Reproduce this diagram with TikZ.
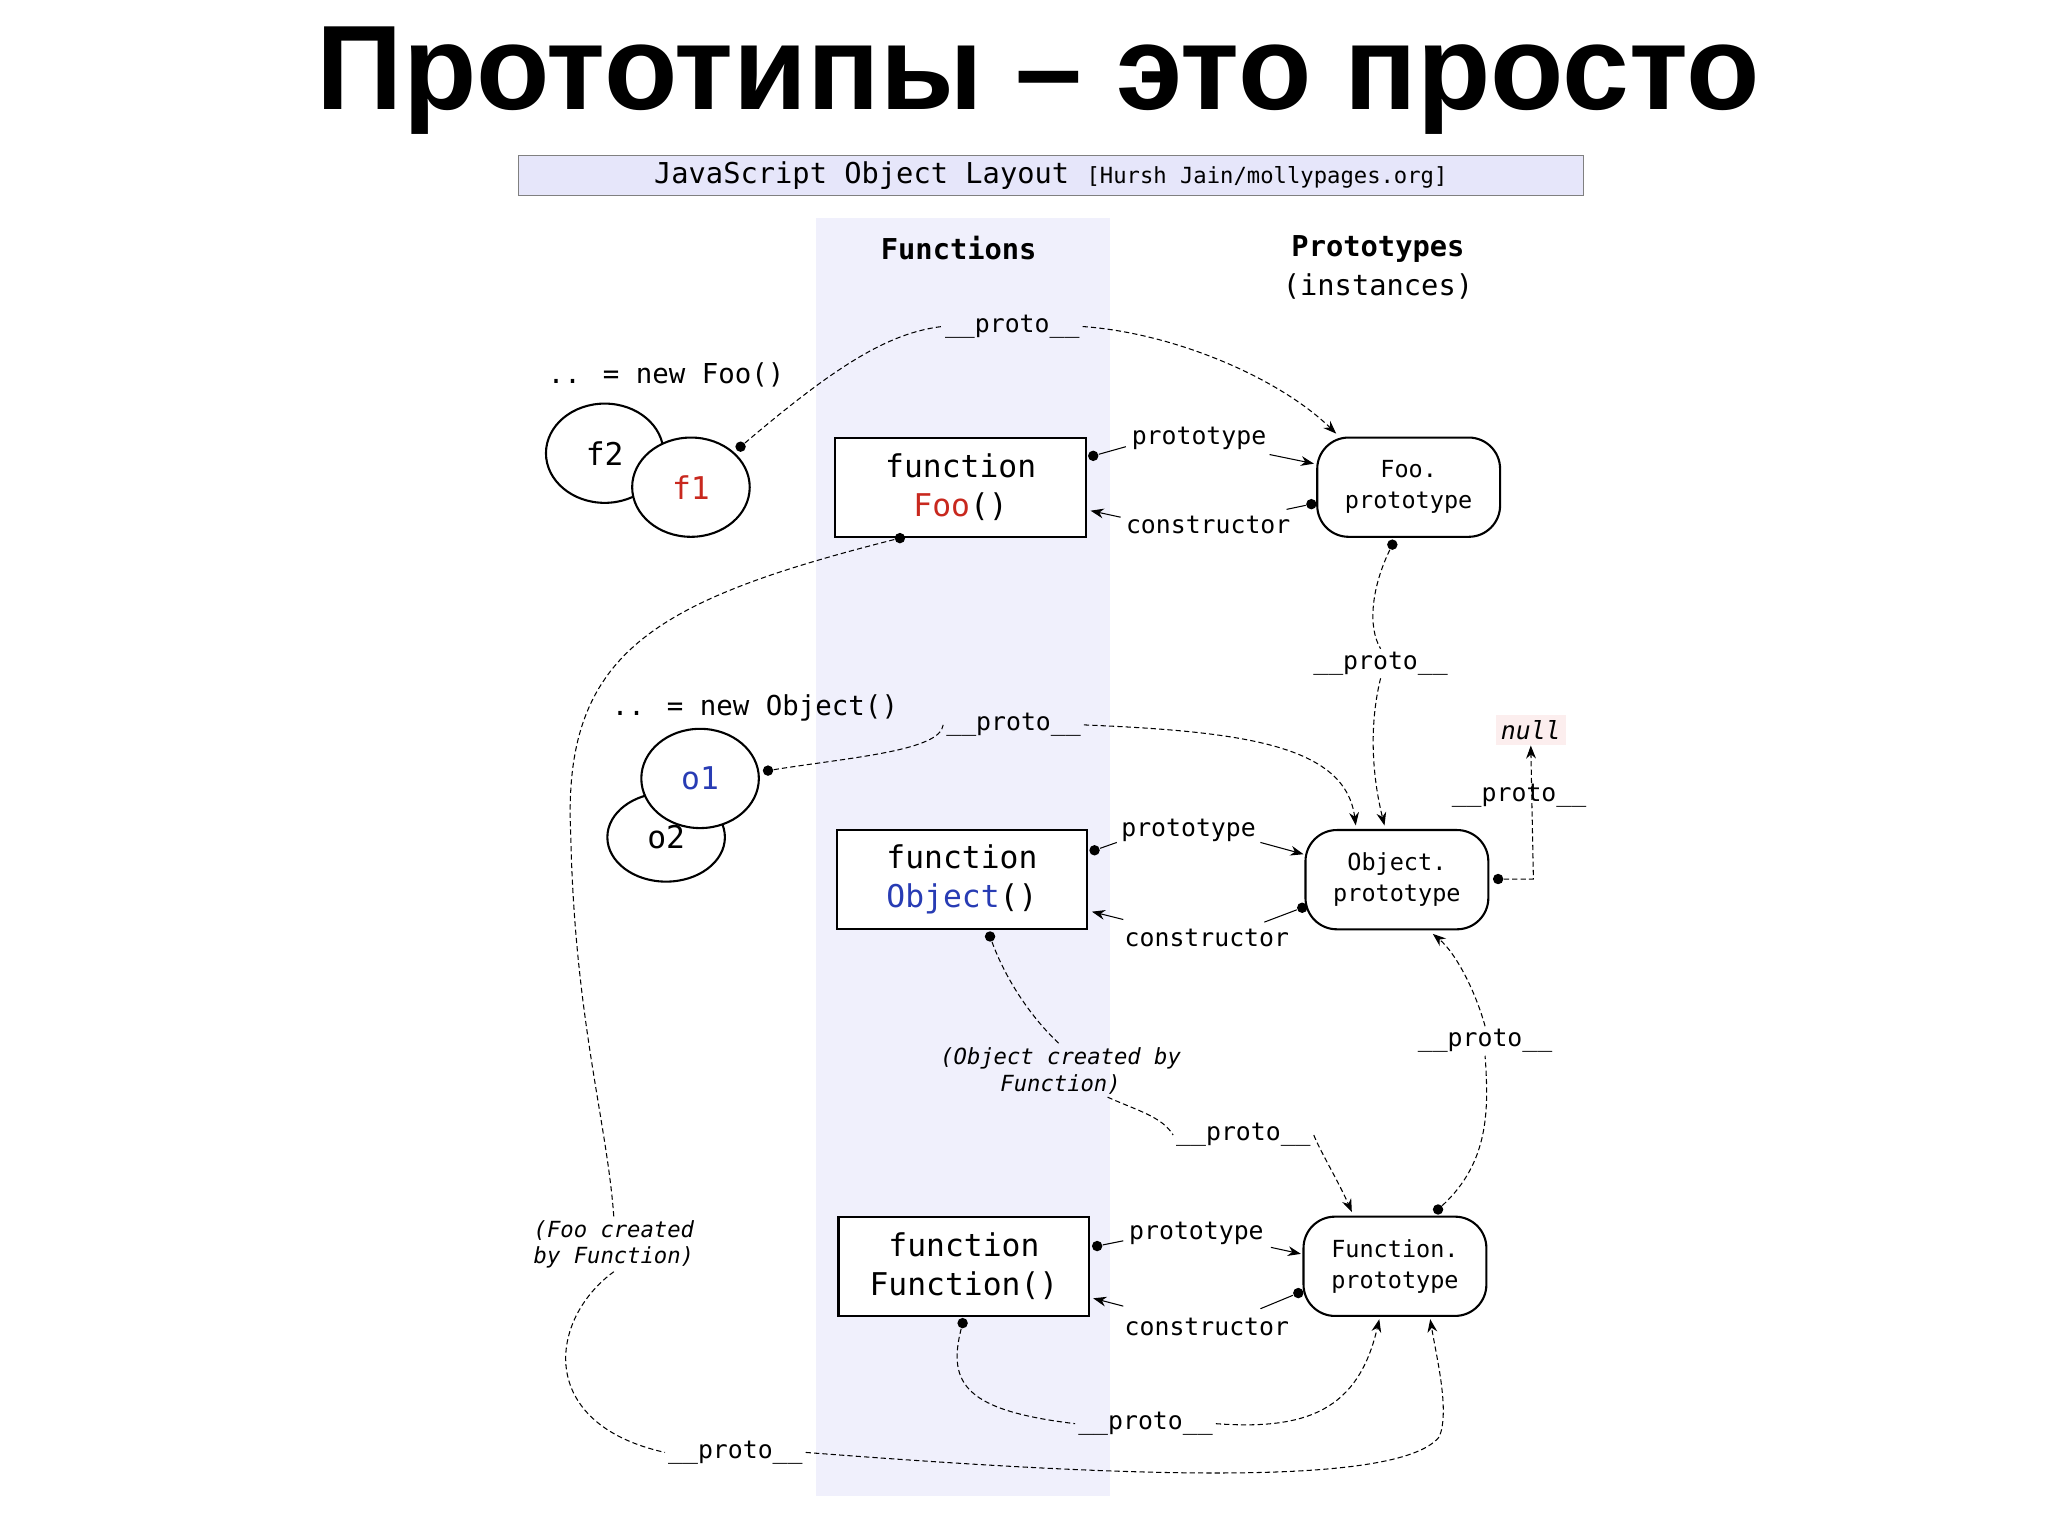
\documentclass[tikz,border=0pt]{standalone}
\usepackage{fontspec}
\setmainfont{Liberation Sans}
\newfontfamily\mono{DejaVu Sans Mono}
\usetikzlibrary{arrows.meta,shapes.geometric}
\definecolor{red1}{RGB}{200,40,30}
\definecolor{blue1}{RGB}{40,60,180}
\definecolor{band}{RGB}{240,240,252}
\definecolor{banner}{RGB}{230,230,250}
\definecolor{nullbg}{RGB}{252,238,238}
\tikzset{
 fbox/.style={draw,thick,fill=white,minimum width=96pt,minimum height=38pt,align=center,font=\mono\fontsize{12}{15}\selectfont},
 pbox/.style={draw,thick,fill=white,rounded corners=12pt,minimum width=70pt,minimum height=38pt,align=center,font=\mono\fontsize{9}{12}\selectfont},
 obj/.style={draw,thick,fill=white,ellipse,minimum width=45pt,minimum height=38pt,font=\mono\fontsize{12}{14}\selectfont},
 lbl/.style={font=\mono\fontsize{9.5}{11}\selectfont,inner sep=1pt},
 ilbl/.style={font=\mono\itshape\fontsize{8.5}{10}\selectfont,align=center,inner sep=1pt},
 conn/.style={thin,-{Stealth[length=5pt]}},
 pconn/.style={thin,dashed,dash pattern=on 2pt off 1.2pt,-{Stealth[length=5pt]}},
 pline/.style={thin,dashed,dash pattern=on 2pt off 1.2pt},
 dot/.style={circle,fill=black,inner sep=0pt,minimum size=4pt},
}
\begin{document}
\begin{tikzpicture}[x=0.5pt,y=-0.5pt]
\useasboundingbox (0,0) rectangle (1568,1176);
\fill[band] (625,167) rectangle (850,1145);
\node (title) at (795,62) {\fontsize{46}{50}\selectfont\bfseries Прототипы – это просто};
\node[draw=gray,fill=banner,minimum width=407.5pt,minimum height=15.5pt,inner sep=0pt] (banner) at (804.5,134.5) {\mono\fontsize{11}{12}\selectfont JavaScript Object Layout \fontsize{8.5}{10}\selectfont[Hursh Jain/mollypages.org]};
\node (hf) at (734,190) {\mono\bfseries\fontsize{11}{12}\selectfont Functions};
\node[align=center,font=\mono\fontsize{11}{15}\selectfont] (hp) at (1055,205) {\textbf{Prototypes}\\(instances)};

\node[lbl] (newfoo) at (510,287) {\fontsize{10.5}{12}\selectfont .. = new Foo()};
\node[obj] (f2) at (463,347) {f2};
\node[obj] (f1) at (529,373) {\color{red1}f1};
\node[lbl] (newobj) at (578,542) {\fontsize{10.5}{12}\selectfont .. = new Object()};
\node[obj,minimum height=34pt] (o2) at (510,641) {\raisebox{-4pt}{o2}};
\node[obj] (o1) at (536,596) {\color{blue1}o1};

\node[fbox] (foo) at (735.5,373) {function\\{\color{red1}Foo}()};
\node[fbox] (object) at (736.5,673.5) {function\\{\color{blue1}Object}()};
\node[fbox] (function) at (738,969.5) {function\\Function()};
\node[pbox] (fooP) at (1078.5,373) {Foo.\\prototype};
\node[pbox] (objP) at (1069.5,673.5) {Object.\\prototype};
\node[pbox] (funP) at (1068,969.5) {Function.\\prototype};
\node[fill=nullbg,font=\mono\itshape\fontsize{9.5}{11}\selectfont,inner sep=2pt] (null) at (1172,559) {null};

\node[lbl] (l1) at (775,250) {\_\_proto\_\_};
\node[lbl] (l2) at (1057,508) {\_\_proto\_\_};
\node[lbl] (l3) at (776,555) {\_\_proto\_\_};
\node[lbl] (l4) at (1163,609) {\_\_proto\_\_};
\node[lbl] (l5) at (1137,797) {\_\_proto\_\_};
\node[lbl] (l6) at (952,869) {\_\_proto\_\_};
\node[lbl] (l7) at (877,1090) {\_\_proto\_\_};
\node[lbl] (l8) at (563,1112) {\_\_proto\_\_};
\node[ilbl] (oc) at (812,820) {(Object created by\\Function)};
\node[ilbl] (fc) at (470,953) {(Foo created\\by Function)};
\node[lbl] (pra) at (918,336) {prototype};
\node[lbl] (prb) at (910,636) {prototype};
\node[lbl] (prc) at (916,944) {prototype};
\node[lbl] (cna) at (925,402) {constructor};
\node[lbl] (cnb) at (924,718) {constructor};
\node[lbl] (cnc) at (924,1016) {constructor};

\node[dot] (d1) at (567,342) {};
\node[dot] (d2) at (837,349) {};
\node[dot] (d3) at (1004,386) {};
\node[dot] (d4) at (1066,417) {};
\node[dot] (d5) at (689,412) {};
\node[dot] (d6) at (588,590) {};
\node[dot] (d7) at (838,651) {};
\node[dot] (d8) at (997,695) {};
\node[dot] (d9) at (1147,673) {};
\node[dot] (d10) at (758,717) {};
\node[dot] (d11) at (1101,926) {};
\node[dot] (d12) at (840,954) {};
\node[dot] (d13) at (994,990) {};
\node[dot] (d14) at (737,1013) {};
\coordinate (t1) at (1023,332);
\coordinate (t2) at (1060,632);
\coordinate (t3) at (1038,632);
\coordinate (t4) at (1035,928);
\coordinate (t5) at (1097,715);
\coordinate (t6) at (1056,1010);
\coordinate (t7) at (1095,1010);
\coordinate (c1) at (848,840);

\draw (d2) -- (862,342);
\draw[conn] (972,348) -- (1006,355);
\draw (d3) -- (985,390);
\draw[conn] (858,396) -- (835,391);
\draw (d7) -- (855,645);
\draw[conn] (965,645) -- (998,654);
\draw (d8) -- (968,706);
\draw[conn] (860,704) -- (836,698);
\draw (d12) -- (860,950);
\draw[conn] (973,955) -- (996,960);
\draw (d13) -- (965,1002);
\draw[conn] (860,1000) -- (837,994);

\draw[pline] (d1) .. controls (640,280) and (680,255) .. (l1.west);
\draw[pconn] (l1.east) .. controls (900,255) and (980,290) .. (t1);
\draw[pline] (d4) .. controls (1050,450) and (1047,480) .. (l2.north);
\draw[pconn] (l2.south) .. controls (1047,560) and (1052,600) .. (t2);
\draw[pline] (d6) .. controls (650,580) and (720,575) .. (l3.west);
\draw[pconn] (l3.east) .. controls (950,560) and (1030,570) .. (t3);
\draw[pconn] (d9) -- (1174,673) -- (null.south);
\draw[pline] (d10) .. controls (770,750) and (790,780) .. (oc.north);
\draw[pline] (c1) .. controls (870,850) and (890,855) .. (l6.west);
\draw[pconn] (l6.east) .. controls (1010,880) and (1025,905) .. (t4);
\draw[pline] (d11) .. controls (1140,890) and (1140,850) .. (l5.south);
\draw[pconn] (l5.north) .. controls (1130,760) and (1115,730) .. (t5);
\draw[pline] (d14) .. controls (725,1060) and (740,1080) .. (l7.west);
\draw[pconn] (l7.east) .. controls (1000,1095) and (1040,1080) .. (t6);
\draw[pline] (d5) .. controls (500,460) and (430,500) .. (437,640) .. controls (440,780) and (465,860) .. (fc.north);
\draw[pline] (fc.south) .. controls (420,1010) and (410,1090) .. (l8.west);
\draw[pconn] (l8.east) .. controls (850,1130) and (1070,1140) .. (1102,1100) .. controls (1110,1080) and (1100,1040) .. (t7);
\end{tikzpicture}
\end{document}
